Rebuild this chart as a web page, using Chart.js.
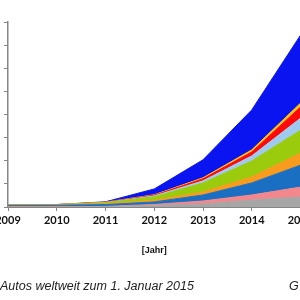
<!DOCTYPE html>
<html lang="de">
<head>
<meta charset="utf-8">
<script src="https://cdn.jsdelivr.net/npm/chart.js@4.4.0/dist/chart.umd.min.js"></script>
<style>
  html, body { margin: 0; padding: 0; background: #fff; }
  body { width: 300px; height: 300px; overflow: hidden; position: relative; }
  #wrap { position: absolute; left: -60px; top: 0; width: 390px; height: 300px; }
  .caption { position: absolute; top: 279px; font: italic 12.5px "Liberation Sans", Arial, sans-serif; color: #222; white-space: nowrap; }
</style>
</head>
<body>
<div id="wrap"><canvas id="chart" width="390" height="300"></canvas></div>
<div class="caption" style="left:0">Autos weltweit zum 1. Januar 2015</div>
<div class="caption" style="left:289px">G</div>
<script>
'use strict';

// Jahre (x-Achse)
const years = ['2009', '2010', '2011', '2012', '2013', '2014', '2015'];

// Schichten von unten nach oben, Werte aus dem Bild geschätzt
const grau      = [1000, 1000, 1500,  7000, 13000, 30000,  43000];
const rosa      = [ 500,  500, 1000,  4000, 13000, 22000,  43000];
const mittelblau= [5500, 6000, 8000, 11000, 26000, 52000,  95000];
const orange    = [3000, 3000, 3000,  7000, 13000, 26000,  52000];
const gruen     = [   0,    0, 5000, 15000, 39000, 69000,  99000];
const hellblau  = [   0,    0, 1000,  4000,  9000, 22000,  52000];
const rot       = [   0,    0, 1000,  3000,  9000, 17000,  48000];
const gelb      = [   0,    0,  500,  2000,  4000,  9000,  17000];
const blau      = [   0,    0, 1500, 25000, 78000, 173000, 294000];

// y-Achse: 0 bis 800.000
const yMax = 800000;
const yStep = 100000;

const layers = [
    { data: grau,       color: '#a6a6a6' },
    { data: rosa,       color: '#f2878c' },
    { data: mittelblau, color: '#1b6fc2' },
    { data: orange,     color: '#f99b1c' },
    { data: gruen,      color: '#9acb0c' },
    { data: hellblau,   color: '#9fcaf0' },
    { data: rot,        color: '#ff0a0a' },
    { data: gelb,       color: '#ffc20e' },
    { data: blau,       color: '#0a14f0' }
];

const axisGrey = '#868686';

new Chart(document.getElementById('chart'), {
    type: 'line',
    data: {
        labels: years,
        datasets: layers.map((l, i) => ({
            data: l.data,
            backgroundColor: l.color,
            borderColor: l.color,
            borderWidth: 1,
            pointRadius: 0,
            tension: 0,
            fill: i === 0 ? 'origin' : '-1'
        }))
    },
    options: {
        responsive: false,
        animation: false,
        layout: { padding: { left: 0, right: 29.5, top: 22, bottom: 44 } },
        plugins: { legend: { display: false }, tooltip: { enabled: false } },
        scales: {
            x: {
                stacked: true,
                offset: false,
                grid: { drawOnChartArea: false, drawTicks: true, tickLength: 4, color: axisGrey },
                border: { display: true, color: axisGrey, width: 1 },
                ticks: { padding: 3, color: '#111', font: { family: 'Lato', weight: 'bold', size: 11 }, maxRotation: 0, autoSkip: false },
                title: { display: true, text: '[Jahr]', color: '#111', padding: 0, font: { family: 'Liberation Sans', weight: 'bold', size: 9 } },
                afterFit: (s) => { s.height = 49; }
            },
            y: {
                stacked: true,
                min: 0,
                max: yMax,
                grid: { drawOnChartArea: false, drawTicks: true, tickLength: 4, color: axisGrey },
                border: { display: true, color: axisGrey, width: 1.5 },
                ticks: {
                    stepSize: yStep, padding: 5, color: '#9a9a9a',
                    font: { family: 'Lato', weight: 'bold', size: 11 },
                    callback: (v) => v.toLocaleString('de-DE')
                },
                afterFit: (s) => { s.width = 68; }
            }
        }
    }
});
</script>
</body>
</html>
